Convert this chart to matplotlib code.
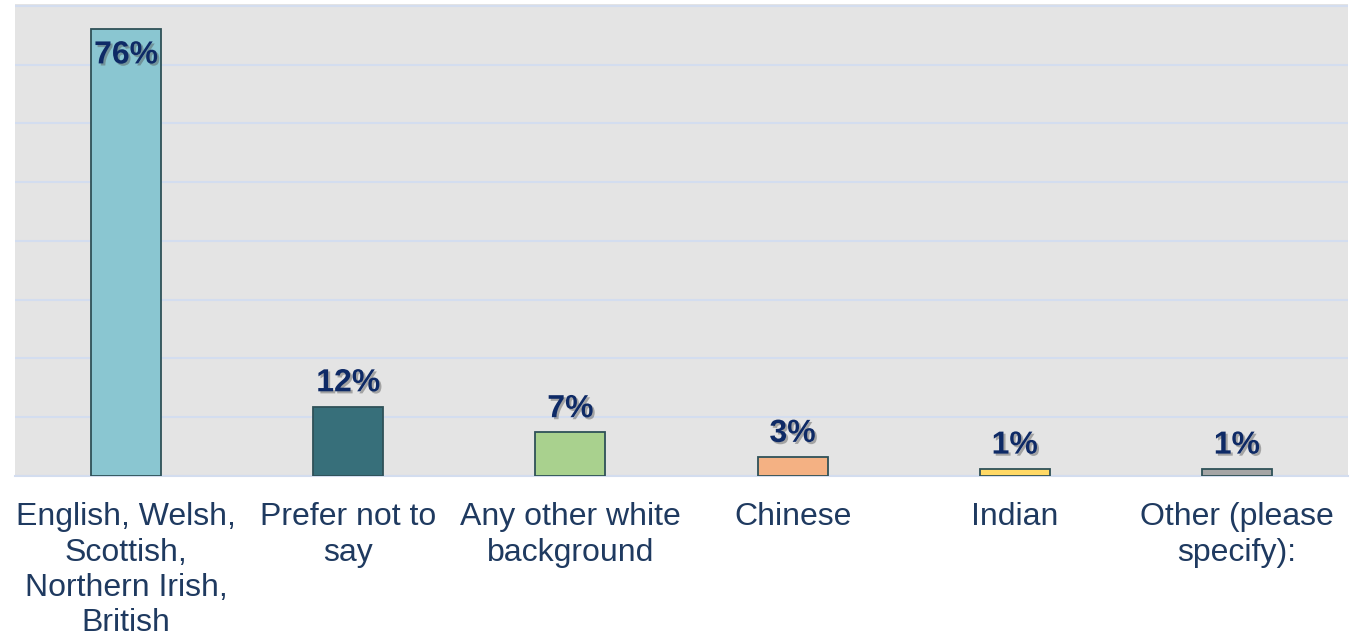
import numpy as np
import matplotlib.pyplot as plt
import matplotlib.patheffects as pe

categories = ["English, Welsh,\nScottish,\nNorthern Irish,\nBritish",
              "Prefer not to\nsay",
              "Any other white\nbackground",
              "Chinese",
              "Indian",
              "Other (please\nspecify):"]
values = [76.0, 11.8, 7.4, 3.2, 1.2, 1.2]
labels = ["76%", "12%", "7%", "3%", "1%", "1%"]
colors = ['#8ac6d1', '#376f7a', '#a9d18e', '#f4b183', '#ffd966', '#a5a5a5']

plt.rcParams['font.family'] = ['Liberation Sans', 'DejaVu Sans']

fig = plt.figure(figsize=(13.53, 6.39), dpi=100)
ax = fig.add_axes([0.0111, 0.2551, 0.9852, 0.7386])
ax.set_facecolor('#e4e4e4')

x = np.arange(len(values))
ax.bar(x, values, width=0.315, color=colors, edgecolor='#2f5158',
       linewidth=1.3, zorder=3)

shadow = [pe.SimplePatchShadow(offset=(1.5, -1.5), shadow_rgbFace='#555555', alpha=0.45),
          pe.Normal()]
for i, (v, lab) in enumerate(zip(values, labels)):
    if v > 60:
        t = ax.annotate(lab, (i, v), xytext=(0, -8), textcoords='offset points',
                        ha='center', va='top', fontsize=23, fontweight='bold',
                        color='#0e2a66', zorder=5)
    else:
        t = ax.annotate(lab, (i, v), xytext=(0, 6), textcoords='offset points',
                        ha='center', va='bottom', fontsize=23, fontweight='bold',
                        color='#0e2a66', zorder=5)
    t.set_path_effects(shadow)

ax.set_xlim(-0.5, len(values) - 0.5)
ax.set_ylim(0, 80.3)
ax.set_yticks(np.arange(0, 81, 10))
ax.yaxis.grid(True, color='#d3ddef', linewidth=1.5, zorder=0)
ax.tick_params(axis='y', left=False, labelleft=False)
ax.tick_params(axis='x', length=0, pad=19)
ax.set_xticks(x)
ax.set_xticklabels(categories, fontsize=23, color='#1f3a60', linespacing=1.23)
for s in ['top', 'left', 'right']:
    ax.spines[s].set_visible(False)
ax.spines['bottom'].set_color('#d3ddef')
ax.spines['bottom'].set_linewidth(1.5)

fig.savefig('out.png', dpi=100)
